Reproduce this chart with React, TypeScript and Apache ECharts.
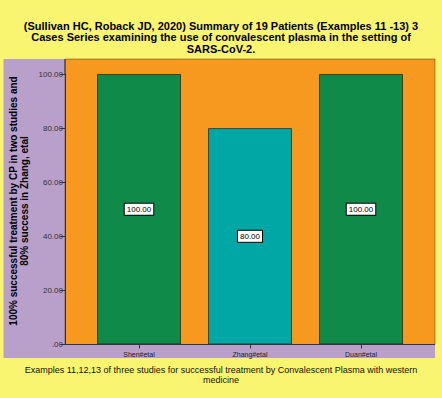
import React, { useEffect, useRef } from "react";
import * as echarts from "echarts";

const categories = ["Shen#etal", "Zhang#etal", "Duan#etal"];
const successRates = [100, 80, 100];
const barColors = ["#0F8A48", "#00A7A4", "#0F8A48"];
const yTicks = [0, 20, 40, 60, 80, 100];

const titleLines = [
  "(Sullivan HC, Roback JD, 2020) Summary of 19 Patients (Examples 11 -13) 3",
  "Cases Series examining the use of convalescent plasma in the setting of",
  "SARS-CoV-2.",
];
const yTitleLines = [
  "100% successful treatment by CP in two studies and",
  "80% success in Zhang, etal",
];
const footerLines = [
  "Examples 11,12,13 of three studies for successful treatment by Convalescent Plasma with western",
  "medicine",
];

const FONT = "'Liberation Sans', Arial, sans-serif";

export default function App() {
  const ref = useRef<HTMLDivElement>(null);

  useEffect(() => {
    document.body.style.margin = "0";
    if (!ref.current) return;
    const chart = echarts.init(ref.current, null, { renderer: "svg" });

    // plot frame, value range and category band
    const frameL = 65;
    const frameR = 435;
    const frameT = 59;
    const frameB = 344.5;
    const gridT = 74;
    const gridL = 83.5;
    const gridR = 416.5;

    chart.setOption({
      animation: false,
      backgroundColor: "#FAF570",
      textStyle: { fontFamily: FONT },
      grid: {
        left: gridL,
        right: 442 - gridR,
        top: gridT,
        bottom: 398 - frameB,
        containLabel: false,
      },
      xAxis: {
        type: "category",
        data: categories,
        axisLine: { show: false },
        axisTick: {
          show: true,
          alignWithLabel: true,
          length: 4,
          lineStyle: { color: "#333" },
        },
        axisLabel: { fontSize: 7, color: "#222", margin: 6, fontFamily: FONT },
      },
      yAxis: {
        type: "value",
        min: yTicks[0],
        max: yTicks[yTicks.length - 1],
        interval: 20,
        offset: gridL - frameL,
        splitLine: { show: false },
        axisLine: { show: true, lineStyle: { color: "#333" } },
        axisTick: { show: true, length: 5, lineStyle: { color: "#333" } },
        axisLabel: {
          fontSize: 8,
          color: "#333",
          margin: 2,
          fontFamily: FONT,
          formatter: (v: number) => (v === 0 ? ".00" : v.toFixed(2)),
        },
      },
      series: [
        {
          type: "bar",
          barWidth: 84,
          data: successRates.map((v, i) => ({
            value: v,
            itemStyle: { color: barColors[i] },
          })),
          itemStyle: { borderColor: "rgba(0,0,0,0.55)", borderWidth: 1 },
          label: {
            show: true,
            position: "inside",
            formatter: (p: any) => Number(p.value).toFixed(2),
            fontSize: 8,
            color: "#000",
            fontFamily: FONT,
            backgroundColor: "#fff",
            borderColor: "#000",
            borderWidth: 1,
            padding: [2, 2, 1, 2],
          },
        },
      ],
      graphic: [
        {
          type: "rect",
          z: -20,
          shape: { x: 3.5, y: frameT, width: frameR - 3.5, height: 358 - frameT },
          style: { fill: "#B9A0CB" },
        },
        {
          type: "rect",
          z: -10,
          shape: { x: frameL, y: frameT, width: frameR - frameL, height: frameB - frameT },
          style: { fill: "#F8991F", stroke: "rgba(0,0,0,0.35)", lineWidth: 1 },
        },
        {
          type: "line",
          z: 10,
          shape: { x1: frameL, y1: frameB, x2: frameR, y2: frameB },
          style: { stroke: "#333", lineWidth: 1 },
        },
        {
          type: "line",
          z: 10,
          shape: { x1: frameL, y1: frameT, x2: frameL, y2: gridT },
          style: { stroke: "#333", lineWidth: 1 },
        },
        {
          type: "text",
          x: 221,
          y: 37,
          style: {
            text: titleLines.join("\n"),
            fontFamily: FONT,
            fontSize: 11,
            fontWeight: "bold",
            lineHeight: 11.5,
            align: "center",
            verticalAlign: "middle",
            fill: "#000",
          },
        },
        {
          type: "text",
          x: 19,
          y: 201,
          rotation: Math.PI / 2,
          style: {
            text: yTitleLines.join("\n"),
            fontFamily: FONT,
            fontSize: 10,
            fontWeight: "bold",
            lineHeight: 10.5,
            align: "center",
            verticalAlign: "middle",
            fill: "#000",
          },
        },
        {
          type: "text",
          x: 221,
          y: 375,
          style: {
            text: footerLines.join("\n"),
            fontFamily: FONT,
            fontSize: 9,
            lineHeight: 10,
            align: "center",
            verticalAlign: "middle",
            fill: "#111",
          },
        },
      ],
    });

    return () => chart.dispose();
  }, []);

  return <div ref={ref} style={{ width: 442, height: 398 }} />;
}
